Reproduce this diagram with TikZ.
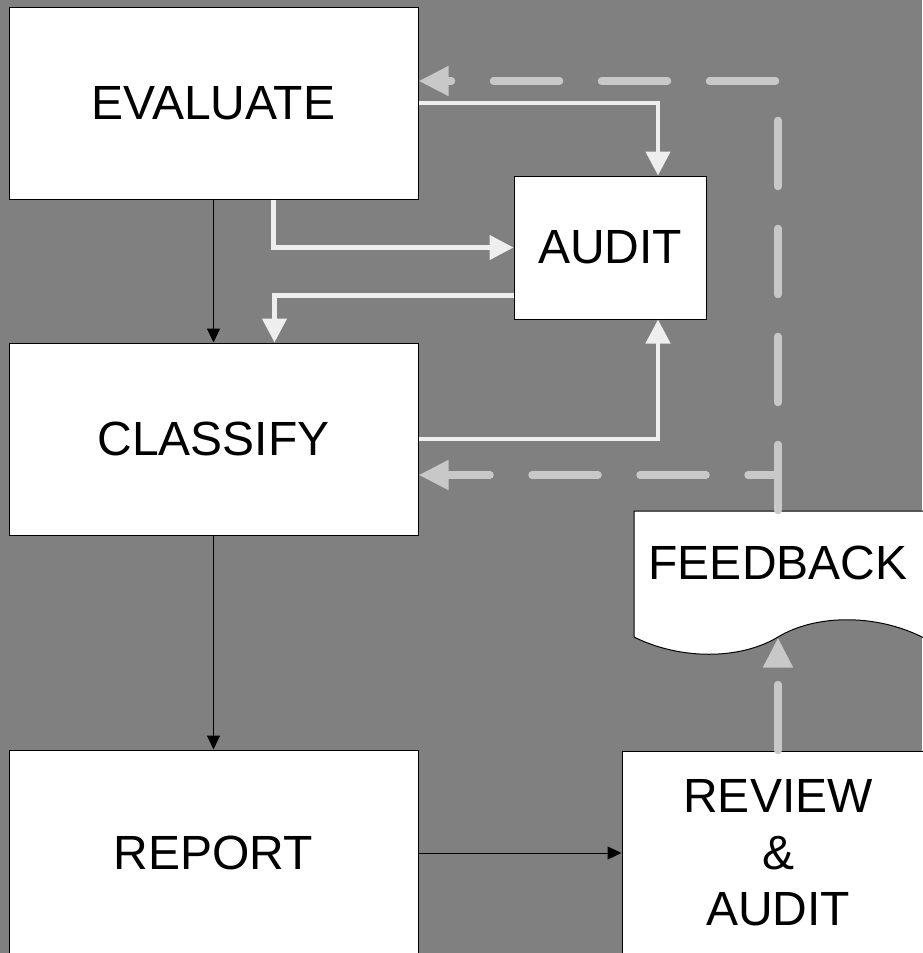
\documentclass[tikz,border=0pt]{standalone}
\usepackage{fontspec}
\setmainfont{Liberation Sans}
\usetikzlibrary{arrows.meta}
\definecolor{bggray}{RGB}{128,128,128}
\definecolor{linkwhite}{RGB}{238,238,238}
\definecolor{fbgray}{RGB}{200,200,200}
\tikzstyle{box}=[rectangle,draw=black,line width=1pt,fill=white,inner sep=0pt,font=\fontsize{48}{56.5}\selectfont]
\tikzstyle{flow} = [draw,line width=1pt,-{Triangle[length=14pt,width=13pt]}]
\tikzstyle{link} = [draw=linkwhite,line width=4.5pt,-{Triangle[length=24pt,width=24pt]}]
\tikzstyle{fbline} = [draw=fbgray,line width=7.5pt,line cap=round,line join=round,dash pattern=on 66pt off 42pt,-{Triangle[length=30pt,width=28pt]}]

\begin{document}
\begin{tikzpicture}[x=1pt,y=-1pt]

    \fill[bggray] (0,0) rectangle (922,953);
    \useasboundingbox (0,0) rectangle (922,953);

    \foreach \pos/\name/\txt/\w/\h in {{(213.5,103)/evaluate/EVALUATE/409/192}, {(213.5,439)/classify/CLASSIFY/409/192}, {(213.5,853)/report/REPORT/409/206}, {(610,247.5)/audit/AUDIT/192/143}}
        \node[box, minimum width=\w pt, minimum height=\h pt] (\name) at \pos {\txt};

    \node[box, align=center, minimum width=312pt, minimum height=204pt] (review) at (778,853) {REVIEW\\\&\\AUDIT};

    % document shape with wavy bottom
    \draw[line width=1pt, fill=white] (634,511) -- (940,511) -- (940,646) -- (922,637) .. controls (876,614) and (816,614) .. (778,637)
        .. controls (740,660) and (680,660) .. (634,637) -- cycle;
    \node[box, draw=none, fill=none, text depth=22pt, minimum width=288pt, minimum height=126pt] (feedback) at (778,574) {FEEDBACK};

    \foreach \source/ \dest in {evaluate/classify, classify/report, report/review}
        \path[flow] (\source) -- (\dest);

    \path[link] (evaluate.east) -| ([xshift=48pt]audit.north);
    \path[link] ([xshift=60pt]evaluate.south) |- (audit.west);
    \path[link] ([yshift=-48pt]audit.west) -| ([xshift=61pt]classify.north);
    \path[link] (classify.east) -| ([xshift=48pt]audit.south);

    \path[fbline] (feedback.north) |- ([yshift=22pt]evaluate.east);
    \path (feedback.north) |- ([yshift=-36pt]classify.east) coordinate[pos=0.5] (fbsplit);
    \path[fbline, dash phase=36pt] (fbsplit) -- ([yshift=-36pt]classify.east);
    \path[fbline] (review.north) -- (feedback.south);

\end{tikzpicture}
\end{document}
